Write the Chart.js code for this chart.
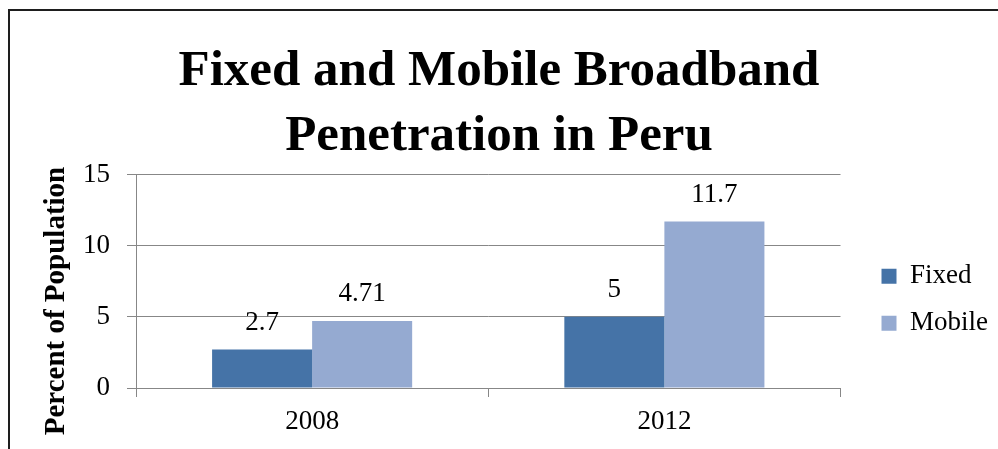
<!DOCTYPE html>
<html>
<head>
<meta charset="utf-8">
<script src="https://cdn.jsdelivr.net/npm/chart.js@4.4.1/dist/chart.umd.min.js"></script>
<style>
  html, body { margin: 0; padding: 0; background: #fff; overflow: hidden; }
  #wrap { position: relative; width: 998px; height: 449px; }
  #frame { position: absolute; left: 8px; top: 9px; width: 1100px; height: 600px;
           border: 2px solid #1e1e1e; pointer-events: none; }
</style>
</head>
<body>
<div id="wrap">
  <canvas id="bbChart"></canvas>
  <div id="frame"></div>
</div>
<script>
// chart data
const years = ['2008', '2012'];
const fixedValues = [2.7, 5];
const mobileValues = [4.71, 11.7];
const yTicks = [0, 5, 10, 15];

const FONT = "'Liberation Serif', 'Times New Roman', serif";
const GRID = '#878787';

Chart.defaults.font.family = FONT;
Chart.defaults.color = '#000';

// value labels above each bar
const barLabels = {
    id: 'barLabels',
    afterDatasetsDraw(chart) {
        const ctx = chart.ctx;
        ctx.save();
        ctx.font = '27px ' + FONT;
        ctx.fillStyle = '#000';
        ctx.textAlign = 'center';
        ctx.textBaseline = 'middle';
        chart.data.datasets.forEach((ds, i) => {
            chart.getDatasetMeta(i).data.forEach((bar, j) => {
                ctx.fillText(String(ds.data[j]), bar.x, bar.y - 27);
            });
        });
        ctx.restore();
    }
};

// rotated y axis title
const yTitle = {
    id: 'yTitle',
    afterDraw(chart) {
        const ctx = chart.ctx;
        ctx.save();
        ctx.translate(57, chart.chartArea.bottom - 87);
        ctx.rotate(-Math.PI / 2);
        ctx.font = 'bold 29px ' + FONT;
        ctx.fillStyle = '#000';
        ctx.textAlign = 'center';
        ctx.textBaseline = 'middle';
        ctx.fillText('Percent of Population', 0, 0);
        ctx.restore();
    }
};

const ctx = document.getElementById('bbChart').getContext('2d');

new Chart(ctx, {
    type: 'bar',
    data: {
        labels: years,
        datasets: [{
            label: 'Fixed',
            data: fixedValues,
            backgroundColor: '#4573A7',
            categoryPercentage: 0.568,
            barPercentage: 1
        }, {
            label: 'Mobile',
            data: mobileValues,
            backgroundColor: '#95AAD1',
            categoryPercentage: 0.568,
            barPercentage: 1
        }]
    },
    options: {
        responsive: true,
        maintainAspectRatio: false,
        animation: false,
        layout: { padding: 0 },
        plugins: {
            title: {
                display: true,
                text: ['Fixed and Mobile Broadband', 'Penetration in Peru'],
                font: { size: 51, weight: 'bold', lineHeight: 1.28 },
                color: '#000',
                padding: { top: 39, bottom: 5 }
            },
            legend: {
                position: 'right',
                fullSize: false,
                title: {
                    display: true,
                    text: ' ',
                    font: { size: 10 },
                    padding: { top: 25, bottom: 0 }
                },
                labels: {
                    boxWidth: 15,
                    boxHeight: 15,
                    padding: 20,
                    font: { size: 27 }
                }
            },
            tooltip: { enabled: false }
        },
        scales: {
            x: {
                grid: {
                    display: true,
                    drawOnChartArea: false,
                    drawTicks: true,
                    tickLength: 9,
                    color: GRID
                },
                border: { display: true, color: GRID, width: 1 },
                ticks: { font: { size: 27 }, padding: 9, color: '#000' },
                afterFit(scale) { scale.height = 61; }
            },
            y: {
                min: 0,
                max: 15,
                afterBuildTicks(scale) {
                    scale.ticks = yTicks.map(v => ({ value: v }));
                },
                grid: { color: GRID, tickLength: 9 },
                border: { display: true, color: GRID, width: 1 },
                ticks: { font: { size: 27 }, padding: 17, color: '#000' },
                afterFit(scale) { scale.width = 136; }
            },
            gap: {
                type: 'linear',
                position: 'right',
                display: true,
                grid: { display: false },
                border: { display: false },
                ticks: { display: false },
                afterFit(scale) { scale.width = 21; }
            }
        }
    },
    plugins: [barLabels, yTitle]
});
</script>
</body>
</html>
